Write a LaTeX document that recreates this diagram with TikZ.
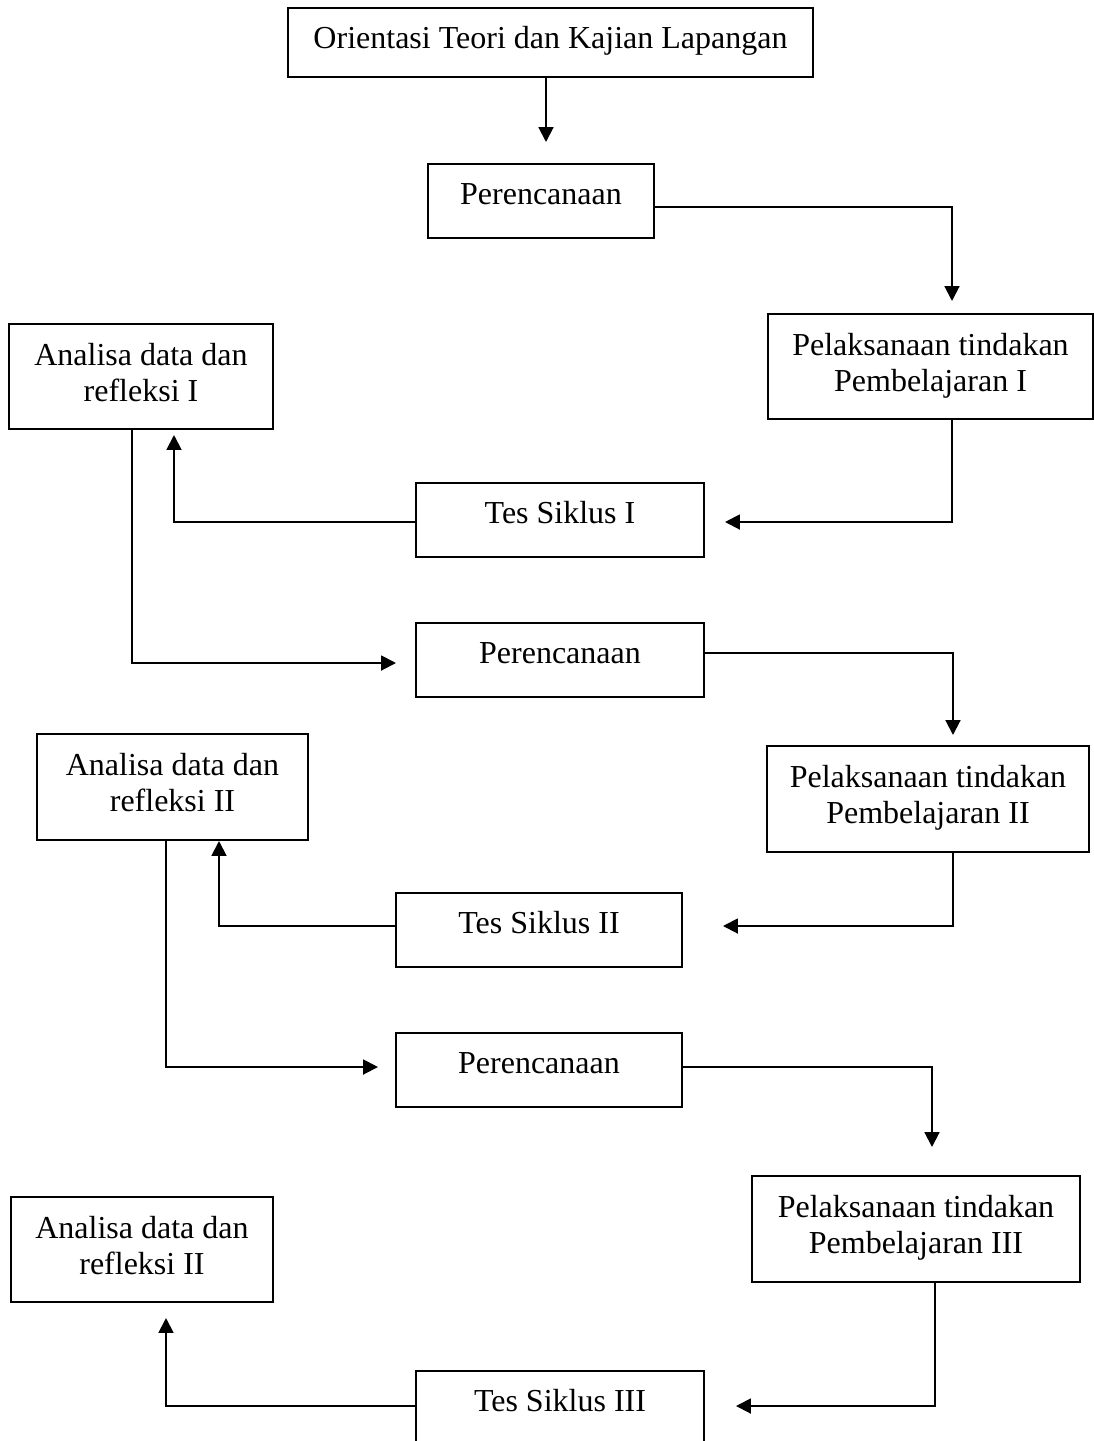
\documentclass[tikz,border=0pt]{standalone}
\usepackage{fontspec}
\setmainfont{Liberation Serif}
\usepackage{tikz}
\usetikzlibrary{arrows.meta}

\begin{document}
\begin{tikzpicture}[>={Triangle[length=5.6pt, width=5.6pt]},
			line width=0.75pt,
			x=0.375pt, y=-0.375pt,
			box/.style={draw, rectangle, inner xsep=0pt, inner ysep=0pt, font=\fontsize{12}{13.5}\selectfont},
			onebox/.style={box, text height=15.2pt, text depth=12.55pt},
			twobox/.style={box, align=center, text height=28.9pt, text depth=10.5pt}]
	\clip (0,0) rectangle (1094,1441);
	% boxes
	\node[onebox, minimum width=196.9pt, text depth=10.7pt] (orient) at (550.5,42.5) {Orientasi Teori dan Kajian Lapangan};
	\node[onebox, minimum width=84.75pt] (renc1) at (541,201) {Perencanaan};
	\node[twobox, minimum width=121.9pt] (laks1) at (930.5,366.5) {Pelaksanaan tindakan\\Pembelajaran I};
	\node[twobox, minimum width=99pt] (anal1) at (141,376.5) {Analisa data dan\\refleksi I};
	\node[onebox, minimum width=108pt] (tes1) at (560,520) {Tes Siklus I};
	\node[onebox, minimum width=108pt] (renc2) at (560,660) {Perencanaan};
	\node[twobox, minimum width=101.6pt] (anal2) at (172.5,787) {Analisa data dan\\refleksi II};
	\node[twobox, minimum width=120.4pt] (laks2) at (928,799) {Pelaksanaan tindakan\\Pembelajaran II};
	\node[onebox, minimum width=107.25pt] (tes2) at (539,930) {Tes Siklus II};
	\node[onebox, minimum width=107.25pt] (renc3) at (539,1070) {Perencanaan};
	\node[twobox, minimum width=123pt] (laks3) at (916,1229) {Pelaksanaan tindakan\\Pembelajaran III};
	\node[twobox, minimum width=98.25pt] (anal3) at (142,1249.5) {Analisa data dan\\refleksi II};
	\node[onebox, minimum width=108pt] (tes3) at (560,1408) {Tes Siklus III};
	% arrow tips
	\coordinate (tip1) at (546,142);
	\coordinate (tip2) at (952,301);
	\coordinate (tip3) at (725,522);
	\coordinate (tip4) at (174,435);
	\coordinate (tip5) at (396,663);
	\coordinate (tip6) at (953,735);
	\coordinate (tip7) at (723,926);
	\coordinate (tip8) at (219,841);
	\coordinate (tip9) at (378,1067);
	\coordinate (tip10) at (932,1147);
	\coordinate (tip11) at (736,1406);
	\coordinate (tip12) at (166,1318);
	% connectors
	\draw[->] (orient.south -| tip1) -- (tip1);
	\draw[->] ([yshift=-2.25pt]renc1.east) -| (tip2);
	\draw[->] (laks1.south -| tip2) |- (tip3);
	\draw[->] (tes1.west |- tip3) -| (tip4);
	\draw[->] ([xshift=-3.4pt]anal1.south) |- (tip5);
	\draw[->] ([yshift=2.6pt]renc2.east) -| (tip6);
	\draw[->] (laks2.south -| tip6) |- (tip7);
	\draw[->] (tes2.west |- tip7) -| (tip8);
	\draw[->] ([xshift=-2.4pt]anal2.south) |- (tip9);
	\draw[->] ([yshift=1.1pt]renc3.east) -| (tip10);
	\draw[->] ([xshift=7.1pt]laks3.south) |- (tip11);
	\draw[->] (tes3.west |- tip11) -| (tip12);
\end{tikzpicture}
\end{document}
